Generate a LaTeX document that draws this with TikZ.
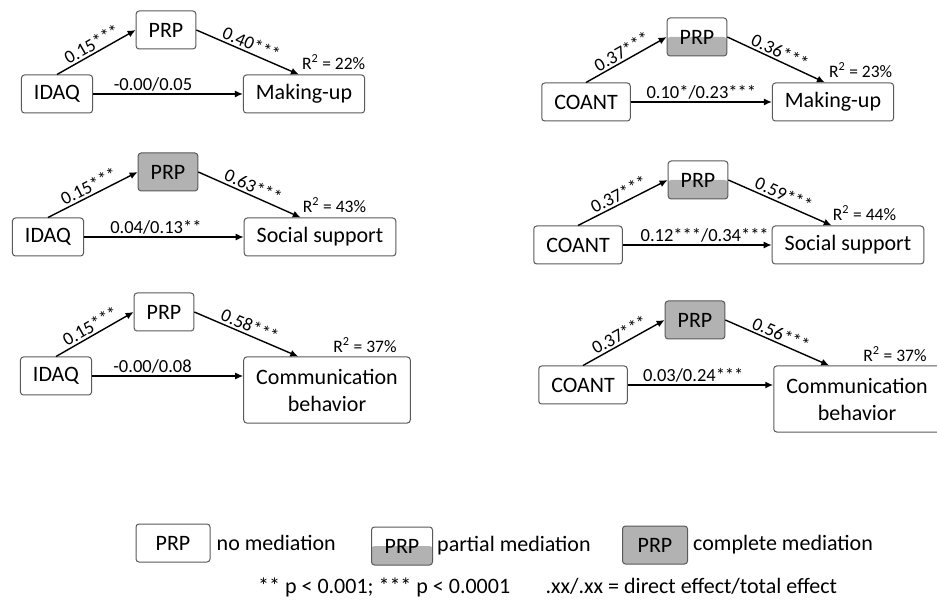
\documentclass[tikz,border=0pt]{standalone}
\usepackage{fontspec}
\setmainfont{Carlito}
\usetikzlibrary{arrows.meta,positioning}

\tikzset{
  box/.style={draw=black!65, line width=1pt, rounded corners=3pt, inner xsep=12.5pt,
    minimum height=38pt, font=\fontsize{22}{27}\selectfont},
  nomed/.style={box, fill=white},
  partmed/.style={box, path picture={\fill[black!30] (path picture bounding box.south west)
    rectangle (path picture bounding box.east);}},
  fullmed/.style={box, fill=black!30},
  arr/.style={-{Latex[length=8pt,width=7pt]}, line width=1.4pt},
  lbl/.style={font=\fontsize{18.5}{20}\selectfont, inner sep=2pt},
  rsq/.style={font=\fontsize{17.5}{20}\selectfont, inner sep=0pt},
  txt/.style={font=\fontsize{22}{27}\selectfont, inner sep=0pt}
}

\begin{document}
\begin{tikzpicture}[x=1pt,y=-1pt]

\useasboundingbox (0,0) rectangle (937,609);

% IDAQ -> Making-up
\node(x1)[box] at (57,94){IDAQ};
\node(m1)[nomed] at (166,30){PRP};
\node(y1)[box] at (304,94){Making-up};
\node(r1)[rsq, above right = 5pt and 59pt of y1.north west]{R\textsuperscript{2} = 22\%};
\draw[arr] (x1.north) -- (m1.west) node(l1a)[lbl, midway, above, sloped]{0.15***};
\draw[arr] (m1.east) -- ([xshift=56pt]y1.north west) node(l1b)[lbl, midway, above, sloped]{0.40***};
\draw[arr] (x1.east) -- (x1.east -| y1.west) node(l1c)[lbl, pos=0.4, above]{-0.00/0.05};

% COANT -> Making-up
\node(x2)[box] at (586,102){COANT};
\node(m2)[partmed] at (697,37){PRP};
\node(y2)[box] at (833,102){Making-up};
\node(r2)[rsq, above right = 5pt and 57pt of y2.north west]{R\textsuperscript{2} = 23\%};
\draw[arr] (x2.north) -- (m2.west) node(l2a)[lbl, midway, above, sloped]{0.37***};
\draw[arr] (m2.east) -- ([xshift=53pt]y2.north west) node(l2b)[lbl, midway, above, sloped]{0.36***};
\draw[arr] (x2.east) -- (x2.east -| y2.west) node(l2c)[lbl, midway, above]{0.10*/0.23***};

% IDAQ -> Social support
\node(x3)[box] at (48,237){IDAQ};
\node(m3)[fullmed] at (168,172){PRP};
\node(y3)[box] at (320,237){Social support};
\node(r3)[rsq, above right = 5pt and 59pt of y3.north west]{R\textsuperscript{2} = 43\%};
\draw[arr] (x3.north) -- (m3.west) node(l3a)[lbl, midway, above, sloped]{0.15***};
\draw[arr] (m3.east) -- ([xshift=57pt]y3.north west) node(l3b)[lbl, midway, above, sloped]{0.63***};
\draw[arr] (x3.east) -- (x3.east -| y3.west) node(l3c)[lbl, pos=0.45, above]{0.04/0.13**};

% COANT -> Social support
\node(x4)[box] at (578,245){COANT};
\node(m4)[partmed] at (698,180){PRP};
\node(y4)[box] at (848,245){Social support};
\node(r4)[rsq, above right = 5pt and 61pt of y4.north west]{R\textsuperscript{2} = 44\%};
\draw[arr] (x4.north) -- (m4.west) node(l4a)[lbl, midway, above, sloped]{0.37***};
\draw[arr] (m4.east) -- ([xshift=60pt]y4.north west) node(l4b)[lbl, midway, above, sloped]{0.59***};
\draw[arr] (x4.east) -- (x4.east -| y4.west) node(l4c)[lbl, pos=0.55, above]{0.12***/0.34***};

% IDAQ -> Communication behavior
\node(x5)[box] at (56,376){IDAQ};
\node(m5)[nomed] at (164,312){PRP};
\node(y5)[box, align=center, minimum height=66pt] at (327,390){Communication\\behavior};
\node(r5)[rsq, above right = 4pt and 90pt of y5.north west]{R\textsuperscript{2} = 37\%};
\draw[arr] (x5.north) -- (m5.west) node(l5a)[lbl, midway, above, sloped]{0.15***};
\draw[arr] (m5.east) -- ([xshift=55pt]y5.north west) node(l5b)[lbl, midway, above, sloped]{0.58***};
\draw[arr] (x5.east) -- (x5.east -| y5.west) node(l5c)[lbl, pos=0.4, above]{-0.00/0.08};

% COANT -> Communication behavior
\node(x6)[box] at (583,385){COANT};
\node(m6)[fullmed] at (695,320){PRP};
\node(y6)[box, align=center, minimum height=66pt] at (857,399){Communication\\behavior};
\node(r6)[rsq, above right = 4pt and 90pt of y6.north west]{R\textsuperscript{2} = 37\%};
\draw[arr] (x6.north) -- (m6.west) node(l6a)[lbl, midway, above, sloped]{0.37***};
\draw[arr] (m6.east) -- ([xshift=56pt]y6.north west) node(l6b)[lbl, midway, above, sloped]{0.56***};
\draw[arr] (x6.east) -- (x6.east -| y6.west) node(l6c)[lbl, pos=0.45, above]{0.03/0.24***};

% legend
\node(k1)[nomed, minimum width=74pt] at (173,543){PRP};
\node(t1)[txt, right = 6pt of k1]{no mediation};
\node(k2)[partmed, minimum width=61pt] at (402,546){PRP};
\node(t2)[txt, right = 4pt of k2]{partial mediation};
\node(k3)[fullmed, minimum width=65pt] at (655,545){PRP};
\node(t3)[txt, right = 5pt of k3]{complete mediation};
\node(n1)[txt, anchor=base west] at (258,593){** p < 0.001; *** p < 0.0001};
\node(n2)[txt, base right = 35pt of n1]{.xx/.xx = direct effect/total effect};

\end{tikzpicture}
\end{document}
